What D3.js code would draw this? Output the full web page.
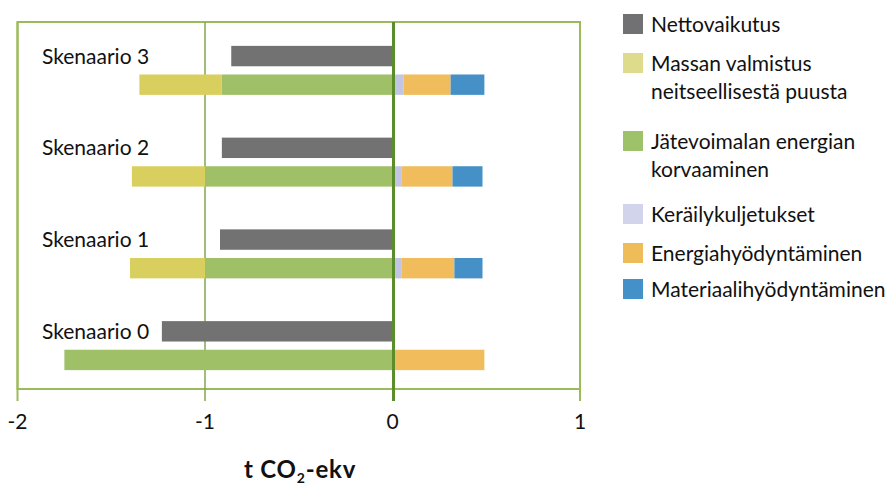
<!DOCTYPE html>
<html>
<head>
<meta charset="utf-8">
<script src="https://cdn.jsdelivr.net/npm/d3@7"></script>
<style>
  html, body { margin: 0; padding: 0; background: #fff; }
  svg { display: block; font-family: Lato, "Open Sans", sans-serif; }
</style>
</head>
<body>
<svg id="chart" width="893" height="490"></svg>
<script>
// Scenarios, top to bottom
const scenarios = ["Skenaario 3", "Skenaario 2", "Skenaario 1", "Skenaario 0"];

// Net effect per scenario (t CO2-ekv)
const netEffect = [-0.86, -0.91, -0.92, -1.23];

// Components of each scenario (t CO2-ekv)
const virginPulp       = [-0.44, -0.39, -0.40, 0];      // Massan valmistus neitseellisestä puusta
const wasteEnergy      = [-0.91, -1.00, -1.00, -1.75];  // Jätevoimalan energian korvaaminen
const collection       = [0.06, 0.05, 0.05, 0.01];      // Keräilykuljetukset
const energyRecovery   = [0.25, 0.27, 0.28, 0.48];      // Energiahyödyntäminen
const materialRecovery = [0.18, 0.16, 0.15, 0];         // Materiaalihyödyntäminen

const xTicks = [-2, -1, 0, 1];
const xTickLabels = ["-2", "-1", "0", "1"];

const legendLabels = [
  ["Nettovaikutus"],
  ["Massan valmistus", "neitseellisestä puusta"],
  ["Jätevoimalan energian", "korvaaminen"],
  ["Keräilykuljetukset"],
  ["Energiahyödyntäminen"],
  ["Materiaalihyödyntäminen"]
];

// Stack keys; order sets which part sits next to zero
const keys = ["wasteEnergy", "virginPulp", "collection", "energyRecovery", "materialRecovery"];
const colors = {
  net: "#727272",
  virginPulp: "#D9CF5E",
  wasteEnergy: "#A0C068",
  collection: "#C3C6E3",
  energyRecovery: "#F0BC5C",
  materialRecovery: "#4591C7"
};
const legendColors = ["#717173", "#DEDC8C", "#9DC26A", "#D2D4EB", "#EFBC5A", "#4490C8"];

const rows = scenarios.map((s, i) => ({
  scenario: s,
  net: netEffect[i],
  virginPulp: virginPulp[i],
  wasteEnergy: wasteEnergy[i],
  collection: collection[i],
  energyRecovery: energyRecovery[i],
  materialRecovery: materialRecovery[i]
}));

const svg = d3.select("#chart");
const plot = { left: 17.5, right: 580, top: 22, bottom: 389 };

const x = d3.scaleLinear().domain([-2, 1]).range([plot.left, plot.right]);
const y = d3.scaleBand().domain(scenarios).range([plot.top, plot.bottom]);
const yInner = d3.scaleBand().domain(["net", "parts"]).range([-22, 27]).paddingInner(0.287);
const center = s => y(s) + y.bandwidth() / 2;

// Frame
svg.append("rect")
  .attr("x", plot.left).attr("y", plot.top)
  .attr("width", plot.right - plot.left).attr("height", plot.bottom - plot.top)
  .attr("fill", "none").attr("stroke", "#9BBB59").attr("stroke-width", 2);

// Vertical grid lines with ticks below the frame
svg.append("g").selectAll("line")
  .data(xTicks.filter(t => t !== 0))
  .join("line")
  .attr("x1", d => x(d)).attr("x2", d => x(d))
  .attr("y1", plot.top).attr("y2", plot.bottom + 12)
  .attr("stroke", d => (d === -1 ? "#7EA84E" : "#9BBB59"))
  .attr("stroke-width", d => (d === -1 ? 1.5 : 2));

// Stacked component bars
const stack = d3.stack().keys(keys).offset(d3.stackOffsetDiverging);
const series = stack(rows);

svg.append("g").selectAll("g")
  .data(series)
  .join("g")
  .attr("fill", d => colors[d.key])
  .selectAll("rect")
  .data(d => d)
  .join("rect")
  .attr("x", d => x(Math.min(d[0], d[1])))
  .attr("width", d => Math.abs(x(d[1]) - x(d[0])))
  .attr("y", d => center(d.data.scenario) + yInner("parts"))
  .attr("height", yInner.bandwidth());

// Net effect bars
svg.append("g").selectAll("rect")
  .data(rows)
  .join("rect")
  .attr("fill", colors.net)
  .attr("x", d => x(Math.min(0, d.net)))
  .attr("width", d => Math.abs(x(d.net) - x(0)))
  .attr("y", d => center(d.scenario) + yInner("net"))
  .attr("height", yInner.bandwidth());

// Zero line
svg.append("line")
  .attr("x1", x(0) + 1).attr("x2", x(0) + 1)
  .attr("y1", plot.top).attr("y2", plot.bottom + 12)
  .attr("stroke", "#5C8D2B").attr("stroke-width", 3);

// Scenario labels
svg.append("g").selectAll("text")
  .data(scenarios)
  .join("text")
  .attr("x", 42)
  .attr("y", s => center(s) + yInner("net") + yInner.bandwidth() / 2)
  .attr("dy", "0.36em")
  .attr("font-size", 21)
  .attr("fill", "#111")
  .text(s => s);

// Tick labels
svg.append("g").selectAll("text")
  .data(xTicks)
  .join("text")
  .attr("x", d => x(d))
  .attr("y", 421)
  .attr("dy", "0.36em")
  .attr("text-anchor", "middle")
  .attr("font-size", 21)
  .attr("fill", "#111")
  .text((d, i) => xTickLabels[i]);

// Axis title
const title = svg.append("text")
  .attr("x", 300).attr("y", 478)
  .attr("text-anchor", "middle")
  .attr("font-size", 24)
  .attr("font-weight", "bold")
  .attr("letter-spacing", 0.8)
  .attr("fill", "#111");
title.append("tspan").text("t CO");
title.append("tspan").attr("font-size", 14).attr("dy", 5).text("2");
title.append("tspan").attr("dy", -5).text("-ekv");

// Legend
const legendSquareY = [14, 53, 131, 204, 243, 279];
const legend = svg.append("g");
legendLabels.forEach((lines, i) => {
  legend.append("rect")
    .attr("x", 623).attr("y", legendSquareY[i])
    .attr("width", 20).attr("height", 20)
    .attr("fill", legendColors[i]);
  lines.forEach((line, j) => {
    legend.append("text")
      .attr("x", 651)
      .attr("y", legendSquareY[i] + 18 + j * 28)
      .attr("font-size", 21)
      .attr("fill", "#111")
      .text(line);
  });
});
</script>
</body>
</html>
